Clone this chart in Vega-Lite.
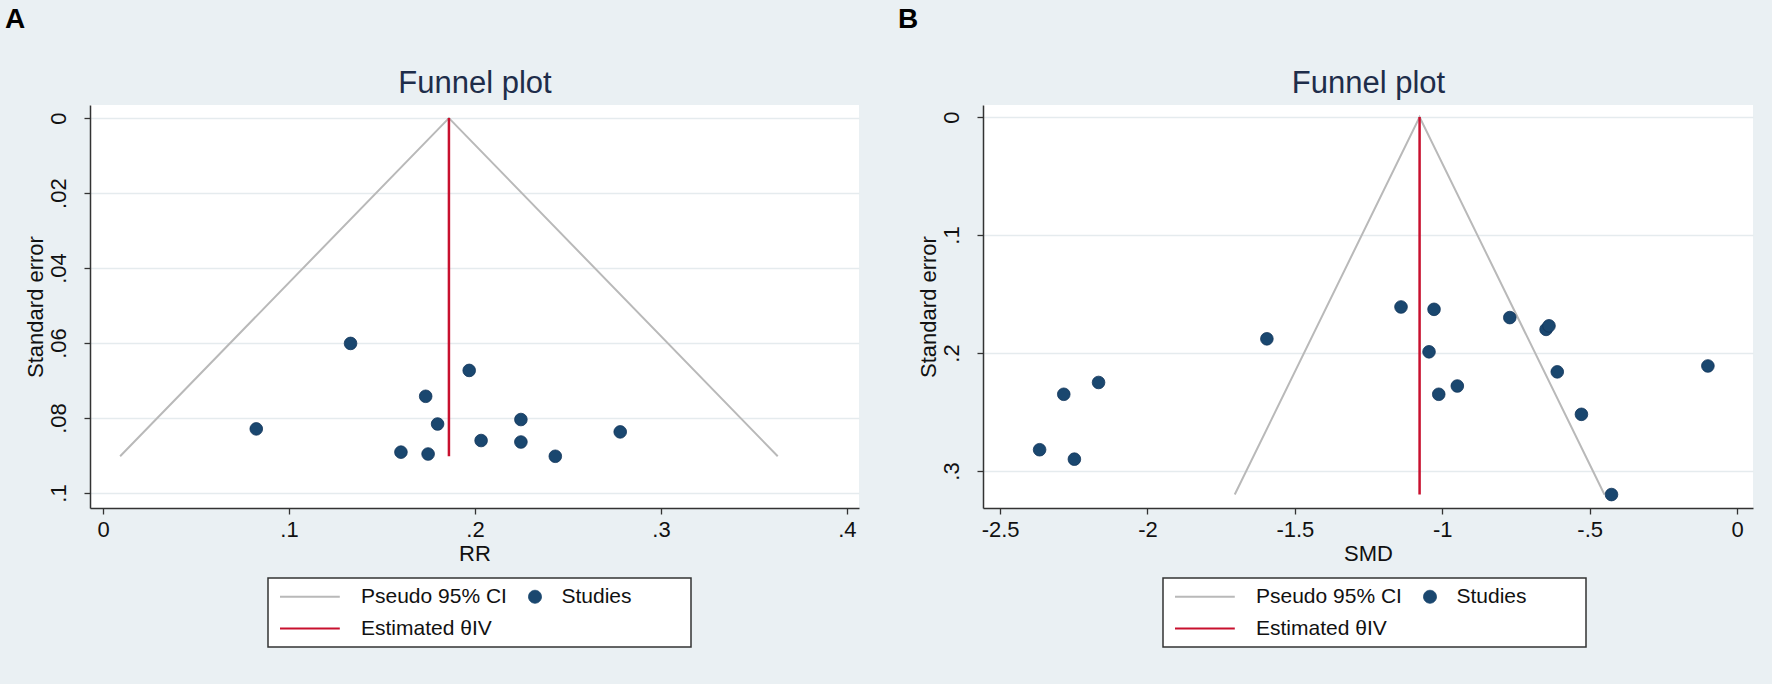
{
  "$schema": "https://vega.github.io/schema/vega-lite/v6.json",
  "background": "#eaf0f3",
  "padding": {"left": 5, "top": 6, "right": 24, "bottom": 36},
  "spacing": 38,
  "config": {
    "font": "Liberation Sans",
    "view": {"fill": "white", "stroke": null},
    "axis": {
      "labelFont": "Liberation Sans", "titleFont": "Liberation Sans",
      "labelFontSize": 22, "titleFontSize": 22, "titleFontWeight": "normal",
      "labelColor": "#111111", "titleColor": "#111111",
      "domainColor": "#333333", "domainWidth": 1.5,
      "tickColor": "#333333", "tickWidth": 1.3, "tickSize": 6,
      "gridColor": "#e5ebee", "gridWidth": 1.5
    },
    "title": {"font": "Liberation Sans"}
  },
  "resolve": {"scale": {"color": "independent"}, "legend": {"color": "independent"}},
  "datasets": {
    "a_funnel": [
      {"es": 0.0092, "se": 0.0902, "ord": 1, "series": "Pseudo 95% CI"},
      {"es": 0.186, "se": 0, "ord": 2, "series": "Pseudo 95% CI"},
      {"es": 0.3628, "se": 0.0902, "ord": 3, "series": "Pseudo 95% CI"}
    ],
    "a_est": [
      {"es": 0.186, "se0": 0, "se1": 0.0902, "series": "Estimated θIV"}
    ],
    "a_studies": [
      {"es": 0.1331, "se": 0.0601, "series": "Studies"},
      {"es": 0.1969, "se": 0.0673, "series": "Studies"},
      {"es": 0.1735, "se": 0.0742, "series": "Studies"},
      {"es": 0.2247, "se": 0.0804, "series": "Studies"},
      {"es": 0.1799, "se": 0.0816, "series": "Studies"},
      {"es": 0.0824, "se": 0.0829, "series": "Studies"},
      {"es": 0.2781, "se": 0.0837, "series": "Studies"},
      {"es": 0.2033, "se": 0.0860, "series": "Studies"},
      {"es": 0.2247, "se": 0.0864, "series": "Studies"},
      {"es": 0.1602, "se": 0.0891, "series": "Studies"},
      {"es": 0.1748, "se": 0.0896, "series": "Studies"},
      {"es": 0.2432, "se": 0.0902, "series": "Studies"}
    ],
    "b_funnel": [
      {"es": -1.704, "se": 0.32, "ord": 1, "series": "Pseudo 95% CI"},
      {"es": -1.077, "se": 0, "ord": 2, "series": "Pseudo 95% CI"},
      {"es": -0.450, "se": 0.32, "ord": 3, "series": "Pseudo 95% CI"}
    ],
    "b_est": [
      {"es": -1.077, "se0": 0, "se1": 0.32, "series": "Estimated θIV"}
    ],
    "b_studies": [
      {"es": -1.595, "se": 0.188, "series": "Studies"},
      {"es": -1.140, "se": 0.161, "series": "Studies"},
      {"es": -1.028, "se": 0.163, "series": "Studies"},
      {"es": -1.045, "se": 0.199, "series": "Studies"},
      {"es": -1.012, "se": 0.235, "series": "Studies"},
      {"es": -0.949, "se": 0.228, "series": "Studies"},
      {"es": -0.771, "se": 0.170, "series": "Studies"},
      {"es": -0.648, "se": 0.180, "series": "Studies"},
      {"es": -0.638, "se": 0.177, "series": "Studies"},
      {"es": -2.166, "se": 0.225, "series": "Studies"},
      {"es": -2.284, "se": 0.235, "series": "Studies"},
      {"es": -2.366, "se": 0.282, "series": "Studies"},
      {"es": -2.248, "se": 0.290, "series": "Studies"},
      {"es": -0.610, "se": 0.216, "series": "Studies"},
      {"es": -0.099, "se": 0.211, "series": "Studies"},
      {"es": -0.528, "se": 0.252, "series": "Studies"},
      {"es": -0.426, "se": 0.320, "series": "Studies"}
    ]
  },
  "hconcat": [
    {
      "width": 769,
      "height": 403,
      "title": {"text": "A", "anchor": "start", "frame": "bounds", "fontSize": 28, "fontWeight": "bold", "color": "#000000", "offset": 33, "dx": -19},
      "resolve": {"axis": {"x": "independent"}},
      "layer": [
        {
          "data": {"name": "a_funnel"},
          "mark": {"type": "line", "strokeWidth": 2},
          "encoding": {
            "x": {"field": "es", "type": "quantitative",
              "scale": {"domain": [-0.007, 0.4065], "nice": false, "zero": false},
              "axis": {"orient": "top", "labels": false, "ticks": false, "domain": false, "grid": false, "title": "Funnel plot", "titleFontSize": 31, "titleColor": "#1e2d4a", "titlePadding": 6}},
            "y": {"field": "se", "type": "quantitative",
              "scale": {"domain": [-0.0035, 0.104], "reverse": true, "nice": false, "zero": false},
              "axis": {"orient": "left", "values": [0, 0.02, 0.04, 0.06, 0.08, 0.1],
                "labelExpr": "datum.value == 0 ? '0' : replace(toString(datum.value), regexp('^(-?)0[.]'), '$1.')",
                "labelAngle": -90, "labelAlign": "center", "labelBaseline": "bottom", "labelPadding": 14,
                "grid": true, "title": "Standard error", "titlePadding": 0}},
            "color": {"field": "series", "type": "nominal",
              "scale": {"domain": ["Pseudo 95% CI", "Studies", "Estimated θIV"], "range": ["#b9b9b9", "#1a476f", "#c8102e"]},
              "legend": {
                "orient": "none", "legendX": 178, "legendY": 473, "title": null, "direction": "horizontal",
                "columns": 2, "symbolSize": 169, "labelOffset": 64, "columnPadding": 17.5, "rowPadding": 10, "padding": 8,
                "labelFontSize": 21, "labelColor": "#111111", "labelLimit": 500, "gridAlign": "each",
                "fillColor": "white", "strokeColor": "#333333",
                "encode": {
                  "symbols": {"update": {
                    "shape": {"signal": "datum.value === 'Studies' ? 'M1,0A1,1,0,1,1,-1,0A1,1,0,1,1,1,0Z M22.5,0Z' : 'M-1,0H8.2'"},
                    "fill": {"signal": "datum.value === 'Studies' ? '#1a476f' : 'transparent'"},
                    "stroke": {"signal": "datum.value === 'Studies' ? '#12355a' : datum.value === 'Pseudo 95% CI' ? '#b9b9b9' : '#c8102e'"},
                    "strokeWidth": {"signal": "datum.value === 'Studies' ? 0.8 : 2"},
                    "opacity": {"value": 1}
                  }},
                  "labels": {"update": {"dx": {"signal": "datum.value === 'Studies' ? -48 : 0"}}},
                  "legend": {"update": {"strokeWidth": {"value": 1.5}}}
                }
              }},
            "order": {"field": "ord", "type": "quantitative"}
          }
        },
        {
          "data": {"name": "a_est"},
          "mark": {"type": "rule", "strokeWidth": 2.5},
          "encoding": {
            "x": {"field": "es", "type": "quantitative", "axis": null, "scale": {"domain": [-0.007, 0.4065], "nice": false, "zero": false}},
            "y": {"field": "se0", "type": "quantitative", "title": "Standard error"},
            "y2": {"field": "se1"},
            "color": {"field": "series", "type": "nominal"}
          }
        },
        {
          "data": {"name": "a_studies"},
          "mark": {"type": "point", "filled": true, "size": 160, "opacity": 1, "stroke": "#12355a", "strokeWidth": 0.8},
          "encoding": {
            "x": {"field": "es", "type": "quantitative",
              "scale": {"domain": [-0.007, 0.4065], "nice": false, "zero": false},
              "axis": {"orient": "bottom", "values": [0, 0.1, 0.2, 0.3, 0.4],
                "labelExpr": "datum.value == 0 ? '0' : replace(toString(datum.value), regexp('^(-?)0[.]'), '$1.')",
                "grid": false, "title": "RR", "labelPadding": 5, "titlePadding": 3}},
            "y": {"field": "se", "type": "quantitative", "title": "Standard error"},
            "color": {"field": "series", "type": "nominal"}
          }
        }
      ]
    },
    {
      "width": 770,
      "height": 403,
      "title": {"text": "B", "anchor": "start", "frame": "bounds", "fontSize": 28, "fontWeight": "bold", "color": "#000000", "offset": 33, "dx": -19},
      "resolve": {"axis": {"x": "independent"}},
      "layer": [
        {
          "data": {"name": "b_funnel"},
          "mark": {"type": "line", "strokeWidth": 2},
          "encoding": {
            "x": {"field": "es", "type": "quantitative",
              "scale": {"domain": [-2.558, 0.054], "nice": false, "zero": false},
              "axis": {"orient": "top", "labels": false, "ticks": false, "domain": false, "grid": false, "title": "Funnel plot", "titleFontSize": 31, "titleColor": "#1e2d4a", "titlePadding": 6}},
            "y": {"field": "se", "type": "quantitative",
              "scale": {"domain": [-0.0102, 0.3314], "reverse": true, "nice": false, "zero": false},
              "axis": {"orient": "left", "values": [0, 0.1, 0.2, 0.3],
                "labelExpr": "datum.value == 0 ? '0' : replace(toString(datum.value), regexp('^(-?)0[.]'), '$1.')",
                "labelAngle": -90, "labelAlign": "center", "labelBaseline": "bottom", "labelPadding": 14,
                "grid": true, "title": "Standard error", "titlePadding": 0}},
            "color": {"field": "series", "type": "nominal",
              "scale": {"domain": ["Pseudo 95% CI", "Studies", "Estimated θIV"], "range": ["#b9b9b9", "#1a476f", "#c8102e"]},
              "legend": {
                "orient": "none", "legendX": 180, "legendY": 473, "title": null, "direction": "horizontal",
                "columns": 2, "symbolSize": 169, "labelOffset": 64, "columnPadding": 17.5, "rowPadding": 10, "padding": 8,
                "labelFontSize": 21, "labelColor": "#111111", "labelLimit": 500, "gridAlign": "each",
                "fillColor": "white", "strokeColor": "#333333",
                "encode": {
                  "symbols": {"update": {
                    "shape": {"signal": "datum.value === 'Studies' ? 'M1,0A1,1,0,1,1,-1,0A1,1,0,1,1,1,0Z M22.5,0Z' : 'M-1,0H8.2'"},
                    "fill": {"signal": "datum.value === 'Studies' ? '#1a476f' : 'transparent'"},
                    "stroke": {"signal": "datum.value === 'Studies' ? '#12355a' : datum.value === 'Pseudo 95% CI' ? '#b9b9b9' : '#c8102e'"},
                    "strokeWidth": {"signal": "datum.value === 'Studies' ? 0.8 : 2"},
                    "opacity": {"value": 1}
                  }},
                  "labels": {"update": {"dx": {"signal": "datum.value === 'Studies' ? -48 : 0"}}},
                  "legend": {"update": {"strokeWidth": {"value": 1.5}}}
                }
              }},
            "order": {"field": "ord", "type": "quantitative"}
          }
        },
        {
          "data": {"name": "b_est"},
          "mark": {"type": "rule", "strokeWidth": 2.5},
          "encoding": {
            "x": {"field": "es", "type": "quantitative", "axis": null, "scale": {"domain": [-2.558, 0.054], "nice": false, "zero": false}},
            "y": {"field": "se0", "type": "quantitative", "title": "Standard error"},
            "y2": {"field": "se1"},
            "color": {"field": "series", "type": "nominal"}
          }
        },
        {
          "data": {"name": "b_studies"},
          "mark": {"type": "point", "filled": true, "size": 160, "opacity": 1, "stroke": "#12355a", "strokeWidth": 0.8},
          "encoding": {
            "x": {"field": "es", "type": "quantitative",
              "scale": {"domain": [-2.558, 0.054], "nice": false, "zero": false},
              "axis": {"orient": "bottom", "values": [-2.5, -2, -1.5, -1, -0.5, 0],
                "labelExpr": "datum.value == 0 ? '0' : replace(toString(datum.value), regexp('^(-?)0[.]'), '$1.')",
                "grid": false, "title": "SMD", "labelPadding": 5, "titlePadding": 3}},
            "y": {"field": "se", "type": "quantitative", "title": "Standard error"},
            "color": {"field": "series", "type": "nominal"}
          }
        }
      ]
    }
  ]
}
